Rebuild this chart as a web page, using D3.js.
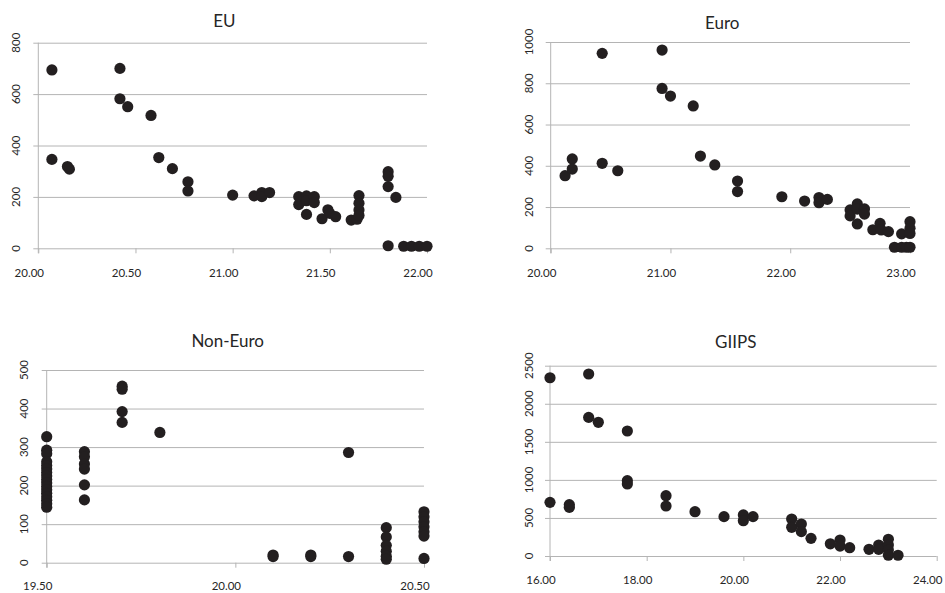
<!DOCTYPE html>
<html>
<head>
<meta charset="utf-8">
<script src="https://cdn.jsdelivr.net/npm/d3@7"></script>
<style>
  html, body { margin: 0; padding: 0; background: #fff; }
  svg { display: block; }
  text { font-family: Lato, "Open Sans", sans-serif; fill: #262626; }
</style>
</head>
<body>
<svg id="chart" width="945" height="593"></svg>
<script>
// ---------- DATA ----------
const euX = [20.07, 20.07, 20.15, 20.16, 20.42, 20.42, 20.46, 20.58, 20.62, 20.69, 20.77, 20.77, 21.00, 21.11, 21.15, 21.15, 21.19, 21.34, 21.34, 21.38, 21.38, 21.38, 21.42, 21.42, 21.46, 21.49, 21.50, 21.53, 21.61, 21.64, 21.65, 21.65, 21.65, 21.65, 21.80, 21.80, 21.80, 21.84, 21.80, 21.88, 21.92, 21.96, 22.00];
const euY = [694, 346, 318, 308, 700, 582, 551, 517, 353, 310, 259, 223, 207, 204, 217, 201, 217, 201, 170, 204, 185, 132, 201, 178, 115, 150, 136, 123, 110, 113, 205, 175, 149, 128, 298, 280, 240, 198, 10, 8, 8, 8, 8];

const euroX = [20.12, 20.18, 20.18, 20.43, 20.43, 20.56, 20.93, 20.93, 21.00, 21.19, 21.25, 21.37, 21.56, 21.56, 21.93, 22.12, 22.24, 22.24, 22.31, 22.50, 22.50, 22.56, 22.56, 22.56, 22.62, 22.62, 22.69, 22.75, 22.76, 22.82, 22.93, 23.00, 23.00, 23.00, 22.87, 22.93, 22.97, 23.00];
const euroY = [352, 433, 384, 945, 412, 376, 961, 775, 738, 690, 447, 404, 326, 275, 250, 229, 246, 221, 237, 186, 157, 215, 190, 118, 191, 166, 90, 121, 89, 81, 70, 129, 97, 72, 5, 5, 5, 5];

const nonX = [19.5, 19.5, 19.5, 19.5, 19.5, 19.5, 19.5, 19.5, 19.5, 19.5, 19.5, 19.5, 19.5, 19.5, 19.5, 19.5, 19.5,
              19.6, 19.6, 19.6, 19.6, 19.6, 19.6,
              19.7, 19.7, 19.7, 19.7,
              19.8,
              20.1, 20.1, 20.2, 20.2, 20.3, 20.3,
              20.4, 20.4, 20.4, 20.4, 20.4, 20.4,
              20.5, 20.5, 20.5, 20.5, 20.5, 20.5, 20.5];
const nonY = [327, 292, 283, 262, 252, 243, 234, 225, 216, 207, 198, 189, 180, 171, 162, 153, 144,
              288, 275, 256, 243, 202, 163,
              458, 450, 392, 364,
              338,
              20, 16, 20, 16, 286, 16,
              91, 67, 45, 30, 17, 9,
              132, 119, 106, 93, 80, 69, 11];

const giX = [16.0, 16.0, 16.4, 16.4, 16.8, 16.8, 17.0, 17.6, 17.6, 17.6, 18.4, 18.4, 19.0, 19.6, 20.0, 20.0, 20.2, 21.0, 21.0, 21.2, 21.2, 21.4, 21.8, 22.0, 22.0, 22.2, 22.6, 22.8, 22.8, 23.0, 23.0, 23.0, 23.0, 23.2];
const giY = [2342, 705, 675, 640, 2391, 1821, 1756, 1642, 989, 946, 792, 657, 582, 517, 539, 464, 517, 486, 377, 420, 320, 232, 160, 210, 131, 109, 88, 144, 88, 219, 144, 79, 10, 10];

const titles = ["EU", "Euro", "Non-Euro", "GIIPS"];
const euXTicks = [20.0, 20.5, 21.0, 21.5, 22.0];
const euroXTicks = [20.0, 21.0, 22.0, 23.0];
const nonXTicks = [19.5, 20.0, 20.5];
const giXTicks = [16, 18, 20, 22, 24];
const euYTicks = [0, 200, 400, 600, 800];
const euroYTicks = [0, 200, 400, 600, 800, 1000];
const nonYTicks = [0, 100, 200, 300, 400, 500];
const giYTicks = [0, 500, 1000, 1500, 2000, 2500];

// ---------- LAYOUT ----------
const panels = [
  { title: titles[0], xs: euX, ys: euY, xDom: [20, 22], yDom: [0, 800], xT: euXTicks, yT: euYTicks,
    x0: 38.3, x1: 427, y0: 248.3, y1: 42.7, tx: 224.3, ty: 20.7, ylx: 15.5, xly: 272 },
  { title: titles[1], xs: euroX, ys: euroY, xDom: [20, 23], yDom: [0, 1000], xT: euroXTicks, yT: euroYTicks,
    x0: 550.7, x1: 910, y0: 248.3, y1: 42, tx: 722.3, ty: 22.3, ylx: 528.3, xly: 272 },
  { title: titles[2], xs: nonX, ys: nonY, xDom: [19.5, 20.5], yDom: [0, 500], xT: nonXTicks, yT: nonYTicks,
    x0: 46.7, x1: 424, y0: 562.7, y1: 370, tx: 227.7, ty: 340, ylx: 23.3, xly: 585 },
  { title: titles[3], xs: giX, ys: giY, xDom: [16, 24], yDom: [0, 2500], xT: giXTicks, yT: giYTicks,
    x0: 550, x1: 936.7, y0: 556, y1: 365.7, tx: 735.7, ty: 341, ylx: 528.3, xly: 579.5 }
];

const svg = d3.select("#chart");
svg.append("rect").attr("width", 945).attr("height", 593).attr("fill", "#fff");

const gridCol = "#b4b4b4";
const dotCol = "#231f20";

panels.forEach(p => {
  const x = d3.scaleLinear().domain(p.xDom).range([p.x0, p.x1]);
  const y = d3.scaleLinear().domain(p.yDom).range([p.y0, p.y1]);
  const w = p.x1 - p.x0;
  const g = svg.append("g");

  // horizontal gridlines with left tick marks
  const yAxis = d3.axisLeft(y).tickValues(p.yT).tickSize(-(w + 5)).tickFormat("");
  const ga = g.append("g").attr("transform", `translate(${p.x0 - 5},0)`).call(yAxis);
  ga.select(".domain").remove();
  ga.selectAll(".tick line").attr("stroke", gridCol).attr("stroke-width", 1);

  // x axis tick marks
  const xAxis = d3.axisBottom(x).tickValues(p.xT).tickSize(5).tickFormat("");
  const gx = g.append("g").attr("transform", `translate(0,${p.y0})`).call(xAxis);
  gx.select(".domain").remove();
  gx.selectAll(".tick line").attr("stroke", gridCol);

  // vertical axis line
  g.append("line").attr("x1", p.x0).attr("x2", p.x0).attr("y1", y(p.yDom[1])).attr("y2", p.y0 + 5)
    .attr("stroke", gridCol).attr("stroke-width", 1);

  // x tick labels
  g.selectAll(".xl").data(p.xT).join("text")
    .attr("x", d => x(d) - 9).attr("y", p.xly)
    .attr("text-anchor", "middle").attr("dominant-baseline", "central")
    .attr("font-size", 11.5)
    .text(d => d3.format(".2f")(d));

  // y tick labels (rotated)
  g.selectAll(".yl").data(p.yT).join("text")
    .attr("transform", d => `translate(${p.ylx},${y(d)}) rotate(-90)`)
    .attr("text-anchor", "middle").attr("dominant-baseline", "central")
    .attr("font-size", 11.5)
    .text(d => d);

  // title
  g.append("text").attr("x", p.tx).attr("y", p.ty)
    .attr("text-anchor", "middle").attr("dominant-baseline", "central")
    .attr("font-size", 17).text(p.title);

  // points
  const pts = p.xs.map((v, i) => [v, p.ys[i]]);
  g.selectAll("circle").data(pts).join("circle")
    .attr("cx", d => x(d[0])).attr("cy", d => y(d[1])).attr("r", 5.6)
    .attr("fill", dotCol);
});
</script>
</body>
</html>
